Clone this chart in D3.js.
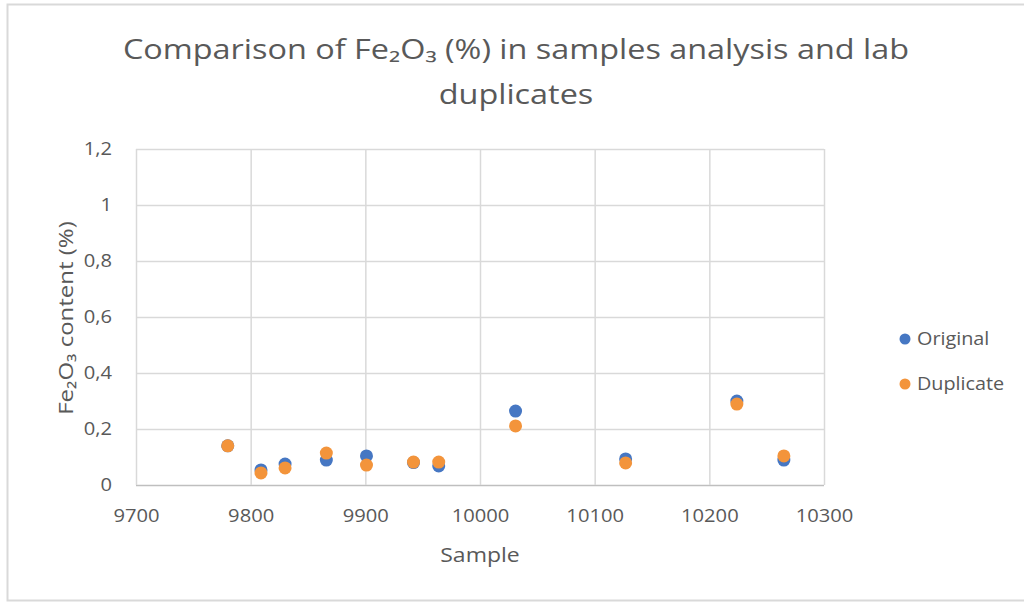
<!DOCTYPE html>
<html lang="en">
<head>
    <meta charset="UTF-8">
    <title>Comparison of Fe2O3</title>
    <script src="https://d3js.org/d3.v7.min.js"></script>
    <style>
        body { margin: 0; background: #fff; font-family: "Open Sans", "Noto Sans", sans-serif; }
        svg { display: block; }
    </style>
</head>
<body>
    <svg width="1024" height="603"></svg>

    <script>
        // Data
        const samples   = [9780, 9809, 9830, 9866, 9901, 9942, 9964, 10031, 10127, 10224, 10265];
        const original  = [0.14, 0.054, 0.075, 0.089, 0.104, 0.08, 0.068, 0.264, 0.093, 0.30, 0.089];
        const duplicate = [0.14, 0.043, 0.061, 0.114, 0.071, 0.082, 0.082, 0.211, 0.079, 0.289, 0.104];
        const xTicks = [9700, 9800, 9900, 10000, 10100, 10200, 10300];
        const yTicks = [0, 0.2, 0.4, 0.6, 0.8, 1, 1.2];
        const seriesNames = ["Original", "Duplicate"];
        const colors = ["#4677C3", "#F3943B"];

        const svg = d3.select("svg");
        const textColor = "#595959";
        const gridColor = "#d9d9d9";

        // the source picture is a bit wider than tall, so stretch text horizontally
        function stretch(sel, s) {
            sel.each(function () {
                const t = d3.select(this);
                const x0 = +t.attr("x") || 0, y0 = +t.attr("y") || 0;
                t.attr("transform", `translate(${x0},${y0}) scale(${s},1) translate(${-x0},${-y0})`);
            });
        }

        // chart frame
        svg.append("rect")
            .attr("x", 7.5).attr("y", 4.5)
            .attr("width", 1030).attr("height", 596)
            .attr("fill", "#fff")
            .attr("stroke", "#d9d9d9").attr("stroke-width", 2);

        const x = d3.scaleLinear().domain([9700, 10300]).range([136, 824]);
        const y = d3.scaleLinear().domain([0, 1.2]).range([485, 149]);

        // gridlines
        svg.append("g").selectAll("line").data(yTicks).join("line")
            .attr("x1", x(9700)).attr("x2", x(10300))
            .attr("y1", d => y(d) + 0.5).attr("y2", d => y(d) + 0.5)
            .attr("stroke", d => d === 0 ? "#bfbfbf" : gridColor)
            .attr("stroke-width", 1.5);
        svg.append("g").selectAll("line").data(xTicks).join("line")
            .attr("x1", d => x(d) + 0.5).attr("x2", d => x(d) + 0.5)
            .attr("y1", y(0)).attr("y2", y(1.2))
            .attr("stroke", gridColor)
            .attr("stroke-width", 1.5);

        // axes (labels only)
        const fmt = d => String(d).replace(".", ",");
        const xAxis = svg.append("g")
            .attr("transform", `translate(0,${y(0)})`)
            .call(d3.axisBottom(x).tickValues(xTicks).tickSize(0).tickPadding(24).tickFormat(d => d));
        const yAxis = svg.append("g")
            .attr("transform", `translate(${x(9700)},0)`)
            .call(d3.axisLeft(y).tickValues(yTicks).tickSize(0).tickPadding(24).tickFormat(fmt));
        [xAxis, yAxis].forEach(a => {
            a.select(".domain").remove();
            a.selectAll("text")
                .attr("fill", textColor)
                .style("font-family", "'Open Sans', sans-serif")
                .style("font-size", "18px")
                .call(stretch, 1.12);
        });

        // points
        const rows = samples.map((s, i) => ({ s, o: original[i], d: duplicate[i] }));
        svg.append("g").selectAll("circle").data(rows).join("circle")
            .attr("cx", d => x(d.s)).attr("cy", d => y(d.o))
            .attr("r", 6.5).attr("fill", colors[0]);
        svg.append("g").selectAll("circle").data(rows).join("circle")
            .attr("cx", d => x(d.s)).attr("cy", d => y(d.d))
            .attr("r", 6.5).attr("fill", colors[1]);

        // title
        const titleLines = ["Comparison of Fe₂O₃ (%) in samples analysis and lab", "duplicates"];
        svg.append("g").selectAll("text").data(titleLines).join("text")
            .attr("x", 516).attr("y", (d, i) => 59 + i * 45)
            .attr("text-anchor", "middle")
            .attr("fill", textColor)
            .style("font-size", "27px")
            .text(d => d)
            .call(stretch, 1.2);

        // axis titles
        svg.append("text")
            .attr("x", 480).attr("y", 562)
            .attr("text-anchor", "middle")
            .attr("fill", textColor)
            .style("font-size", "20px")
            .text("Sample")
            .call(stretch, 1.15);
        svg.append("text")
            .attr("transform", "translate(73,318) rotate(-90) scale(1.2,1)")
            .attr("text-anchor", "middle")
            .attr("fill", textColor)
            .style("font-size", "20px")
            .text("Fe₂O₃  content (%)");

        // legend
        const legend = svg.append("g").selectAll("g").data(seriesNames).join("g")
            .attr("transform", (d, i) => `translate(905,${339 + i * 45})`);
        legend.append("circle").attr("r", 5.5).attr("fill", (d, i) => colors[i]);
        legend.append("text")
            .attr("x", 12).attr("dy", "0.35em")
            .attr("fill", textColor)
            .style("font-size", "18px")
            .text(d => d)
            .call(stretch, 1.1);
    </script>
</body>
</html>
